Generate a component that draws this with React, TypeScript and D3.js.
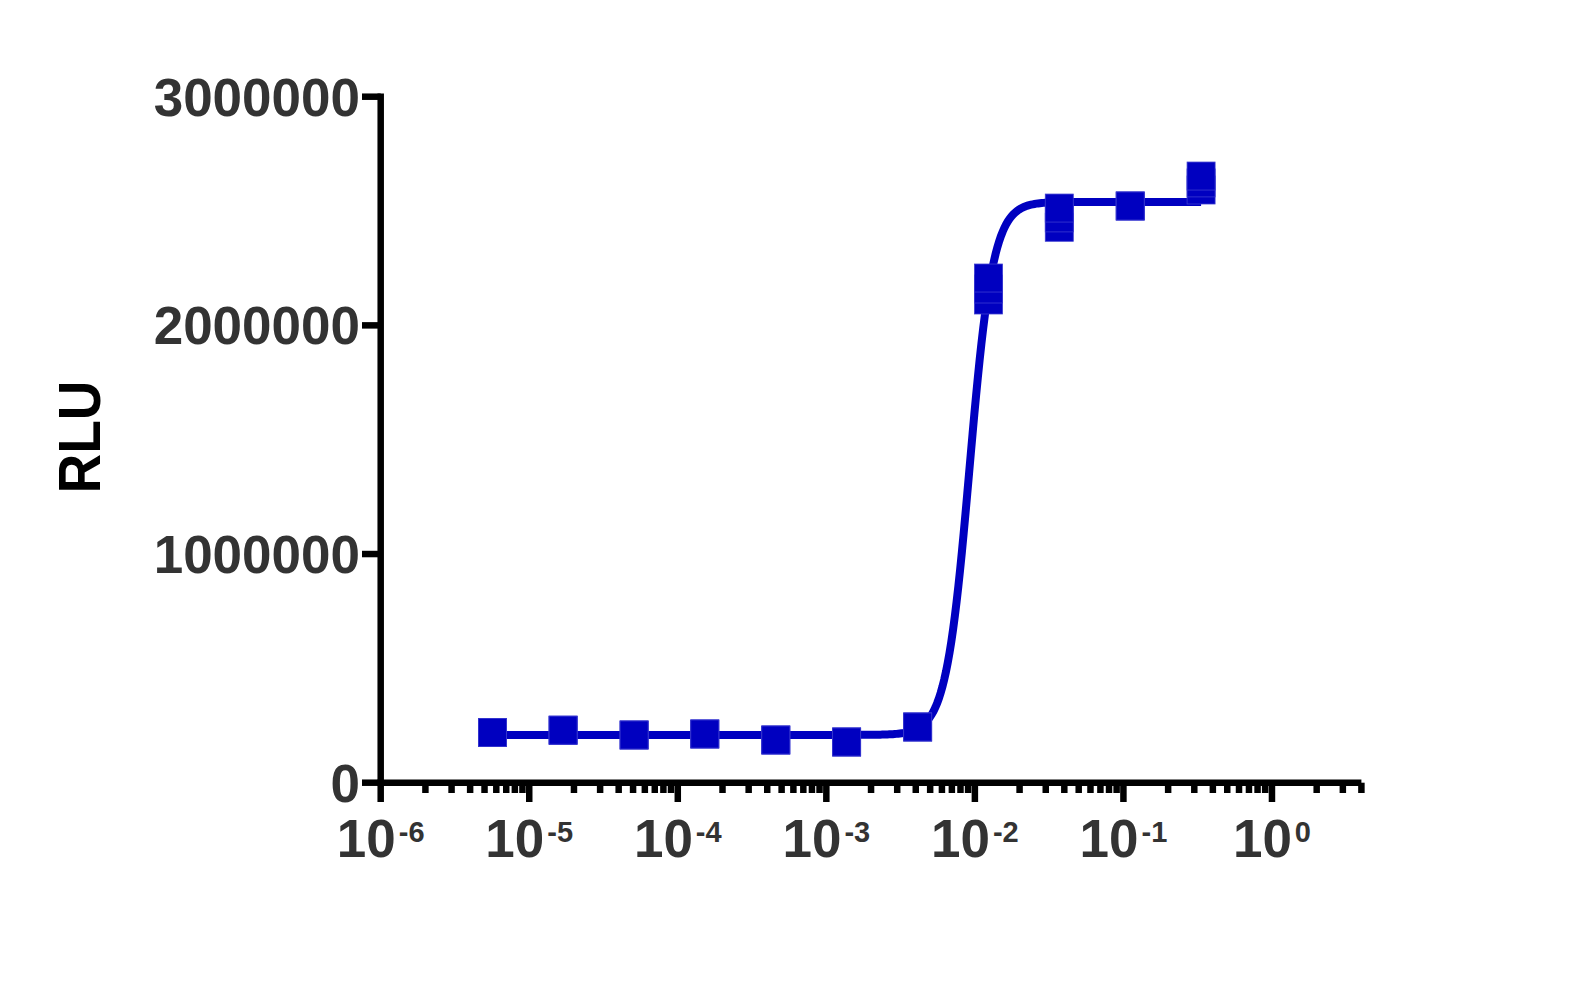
import React from "react";
import * as d3 from "d3";

const concentrations = [5.65e-6, 1.69e-5, 5.08e-5, 1.52e-4, 4.57e-4, 1.37e-3, 4.12e-3, 1.235e-2, 3.7e-2, 1.111e-1, 3.333e-1];
const rluRep1 = [219500, 229600, 208600, 213000, 186700, 178000, 243600, 2207000, 2513000, 2522000, 2653000];
const rluRep2 = [219500, 229600, 208600, 213000, 186700, 178000, 243600, 2159000, 2470000, 2522000, 2623000];
const rluRep3 = [219500, 229600, 208600, 213000, 186700, 178000, 243600, 2111000, 2429000, 2522000, 2592000];

// 4-parameter logistic fit parameters
const fitBottom = 209000;
const fitTop = 2540000;
const fitEC50 = 0.0092;
const fitHill = 5.5;

const yTicks = [0, 1000000, 2000000, 3000000];
const xDecades = [-6, -5, -4, -3, -2, -1, 0];
const xDecadeLabels = ["-6", "-5", "-4", "-3", "-2", "-1", "0"];

const BLUE = "#0000C0";

export default function App() {
  const x = d3.scaleLog().domain([1e-6, 4]).range([380.7, 1361.4]);
  const y = d3.scaleLinear().domain([0, 3000000]).range([782.7, 96.7]);

  const minorTicks: number[] = [];
  for (let e = -6; e <= 0; e++) {
    for (let m = 2; m <= 9; m++) {
      const v = m * Math.pow(10, e);
      if (v <= 4.0001) minorTicks.push(v);
    }
  }

  const fit = (c: number) => fitBottom + (fitTop - fitBottom) / (1 + Math.pow(fitEC50 / c, fitHill));
  const lo = Math.log10(concentrations[0]);
  const hi = Math.log10(concentrations[concentrations.length - 1]);
  const curvePts: [number, number][] = d3.range(0, 401).map((i) => {
    const c = Math.pow(10, lo + ((hi - lo) * i) / 400);
    return [x(c), y(fit(c))];
  });
  const line = d3.line();

  const reps = [rluRep3, rluRep2, rluRep1];
  const S = 28;
  const axisW = 6.5;
  const axisY = y(0);
  const axisX = x(1e-6);

  return (
    <svg width={1580} height={996} style={{ position: "absolute", left: 0, top: 0, background: "#fff" }}>
      <rect width={1580} height={996} fill="#fff" />
      {/* axes */}
      <line x1={axisX} x2={axisX} y1={y(3000000) - axisW / 2} y2={axisY + axisW / 2} stroke="#000" strokeWidth={axisW} />
      <line x1={axisX - axisW / 2} x2={x(4)} y1={axisY} y2={axisY} stroke="#000" strokeWidth={axisW} />
      {yTicks.map((t) => (
        <g key={"yt" + t}>
          <line x1={362} x2={axisX} y1={y(t)} y2={y(t)} stroke="#000" strokeWidth={axisW} />
          <text x={360} y={y(t) + 19} textAnchor="end" fontFamily="'Liberation Sans', Arial, sans-serif" fontWeight="bold" fontSize={53} fill="#333">
            {String(t)}
          </text>
        </g>
      ))}
      {minorTicks.map((v, i) => (
        <line key={"mt" + i} x1={x(v)} x2={x(v)} y1={axisY} y2={793} stroke="#000" strokeWidth={axisW} />
      ))}
      {xDecades.map((e, i) => (
        <g key={"xt" + e}>
          <line x1={x(Math.pow(10, e))} x2={x(Math.pow(10, e))} y1={axisY} y2={802} stroke="#000" strokeWidth={axisW} />
          <text x={x(Math.pow(10, e))} y={857} textAnchor="middle" fontFamily="'Liberation Sans', Arial, sans-serif" fontWeight="bold" fontSize={53} fill="#333">
            <tspan>10</tspan>
            <tspan dx={3} dy={-15} fontSize={29}>{xDecadeLabels[i]}</tspan>
          </text>
        </g>
      ))}
      <text
        transform="translate(100,437) rotate(-90)"
        textAnchor="middle"
        fontFamily="'Liberation Sans', Arial, sans-serif"
        fontWeight="bold"
        fontSize={60}
        textLength={113}
        lengthAdjust="spacingAndGlyphs"
        fill="#000"
      >
        RLU
      </text>
      {/* fit curve */}
      <path d={line(curvePts) || ""} fill="none" stroke={BLUE} strokeWidth={8} />
      {/* markers */}
      {reps.map((rep, r) =>
        rep.map((v, i) => (
          <rect
            key={"m" + r + "-" + i}
            x={x(concentrations[i]) - S / 2}
            y={y(v) - S / 2}
            width={S}
            height={S}
            fill={BLUE}
            stroke="#3a3ad0"
            strokeWidth={0.8}
          />
        ))
      )}
    </svg>
  );
}
